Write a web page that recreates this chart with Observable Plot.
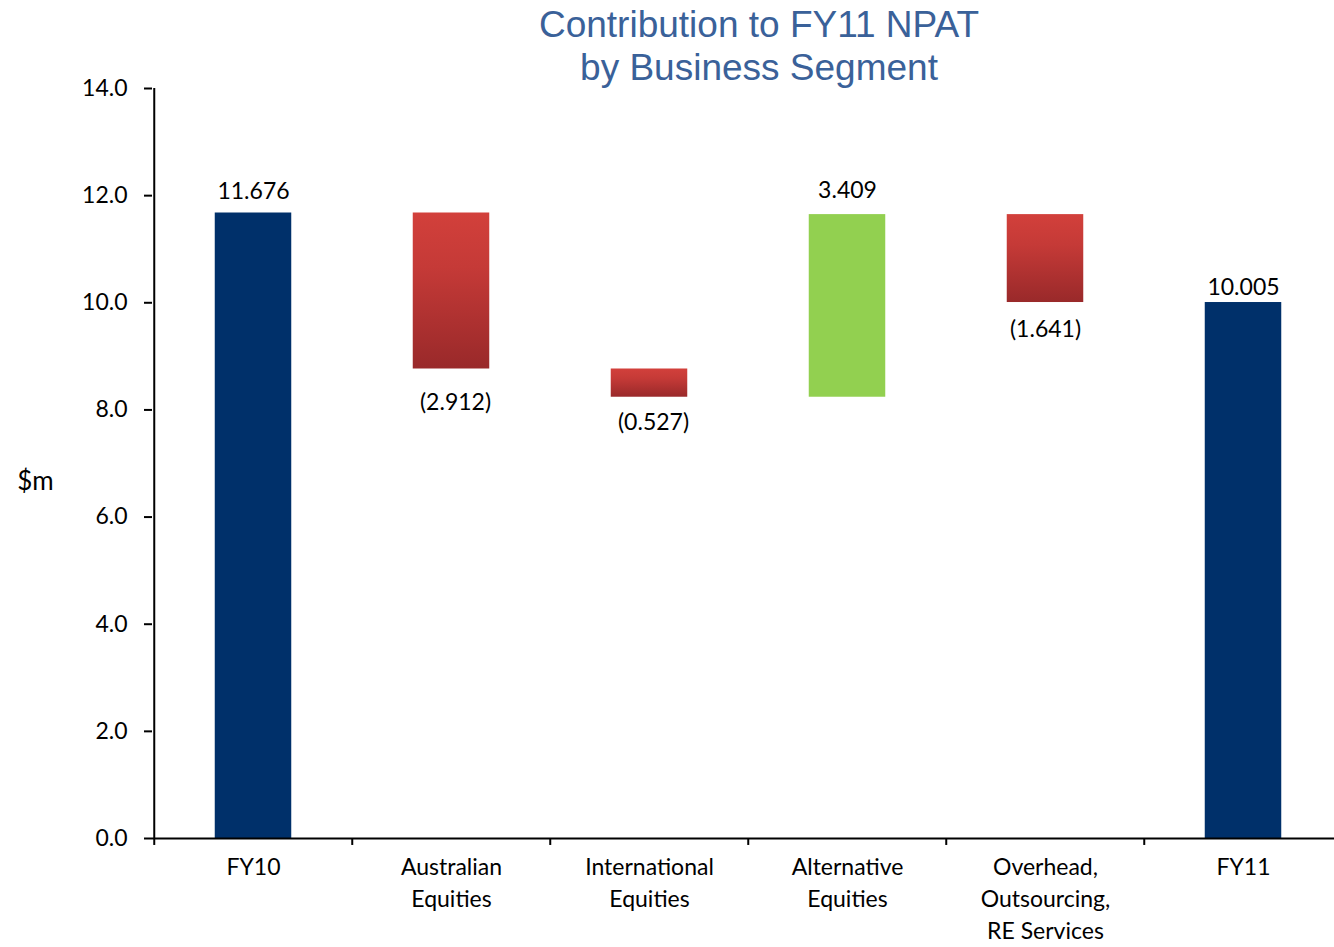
<!DOCTYPE html>
<html>
<head>
<meta charset="utf-8">
<script src="https://cdn.jsdelivr.net/npm/d3@7"></script>
<script src="https://cdn.jsdelivr.net/npm/@observablehq/plot@0.6"></script>
<style>
  html, body { margin: 0; padding: 0; background: #fff; }
  #wrap { position: relative; width: 1334px; height: 947px; overflow: hidden; }
  #title { position: absolute; left: 409px; width: 700px; top: 3px; text-align: center;
           font-family: "Liberation Sans", Arial, sans-serif; font-size: 37px; line-height: 43px; color: #3A6199; }
  #chart { position: absolute; left: 0; top: 0; }
</style>
</head>
<body>
<div id="wrap">
  <div id="chart"></div>
  <div id="title">Contribution to FY11 NPAT<br>by Business Segment</div>
</div>
<script>
const categories = ["FY10", "Australian\nEquities", "International\nEquities", "Alternative\nEquities", "Overhead,\nOutsourcing,\nRE Services", "FY11"];
const values = [11.676, -2.912, -0.527, 3.409, -1.641, 10.005];
const kinds = ["total", "delta", "delta", "delta", "delta", "total"];
const yTicks = [0, 2, 4, 6, 8, 10, 12, 14];

// Build waterfall table
let run = 0;
const rows = categories.map((c, i) => {
  let y1, y2;
  if (kinds[i] === "total") { y1 = 0; y2 = values[i]; run = values[i]; }
  else { y1 = run; y2 = run + values[i]; run = y2; }
  const label = values[i] < 0 ? `(${Math.abs(values[i]).toFixed(3)})` : values[i].toFixed(3);
  return {cat: c, y1, y2, lo: Math.min(y1, y2), hi: Math.max(y1, y2), kind: kinds[i], value: values[i], label};
});

const x0 = 152, x1 = 1343;
const step = (x1 - x0) / categories.length;
const barW = 77;
const inset = (step - barW) / 2;
const font = "Lato, 'Open Sans', sans-serif";
// per-label pixel offsets (style, mirroring the source layout)
const labelDy = [-21, 34, 25, -24, 27, -15];
const labelDx = [0, 4, 4, 0, 0, 0];

const labelMarks = rows.map((r, i) => Plot.text([r], {
  x: "cat", y: r.value >= 0 ? "hi" : "lo", text: "label",
  dy: labelDy[i], dx: labelDx[i], fontSize: 23
}));

const chart = Plot.plot({
  width: 1334,
  height: 947,
  marginTop: 88,
  marginBottom: 109,
  marginLeft: 152,
  marginRight: 0,
  style: {fontFamily: font, fontSize: "23px", color: "#000", background: "transparent"},
  x: {domain: categories, range: [x0, x1], padding: 0},
  y: {domain: [0, 14]},
  marks: [
    Plot.rectY(rows.filter(d => d.kind === "total"), {x: "cat", y1: "lo", y2: "hi", fill: "#00306A", insetLeft: inset, insetRight: inset}),
    Plot.rectY(rows.filter(d => d.kind === "delta" && d.value < 0), {x: "cat", y1: "lo", y2: "hi", fill: "url(#redGrad)", insetLeft: inset, insetRight: inset}),
    Plot.rectY(rows.filter(d => d.kind === "delta" && d.value >= 0), {x: "cat", y1: "lo", y2: "hi", fill: "#92D050", insetLeft: inset, insetRight: inset}),
    ...labelMarks,
    // axes lines
    Plot.ruleY([0], {stroke: "#000", strokeWidth: 2}),
    Plot.ruleX([categories[0]], {dx: -step / 2, y1: 0, y2: 14, stroke: "#000", strokeWidth: 2}),
    // x boundary ticks
    Plot.ruleX(categories, {dx: -step / 2, y1: 0, y2: -0.13, stroke: "#000", strokeWidth: 2}),
    Plot.axisY({ticks: yTicks, tickFormat: d => d.toFixed(1), tickSize: 8, tickPadding: 17, fontSize: 23, label: null, strokeWidth: 2}),
    Plot.axisX({tickSize: 0, tickPadding: 14, fontSize: 23, label: null, lineHeight: 1.39, lineAnchor: "top"}),
    Plot.text(["$m"], {frameAnchor: "left", dx: -117, dy: 18, fontSize: 26, textAnchor: "middle"})
  ]
});

// gradient defs
const svg = d3.select(chart);
const defs = svg.insert("defs", ":first-child");
const g = defs.append("linearGradient").attr("id", "redGrad").attr("x1", 0).attr("y1", 0).attr("x2", 0).attr("y2", 1);
g.append("stop").attr("offset", "0%").attr("stop-color", "#D2403B");
g.append("stop").attr("offset", "35%").attr("stop-color", "#C53A37");
g.append("stop").attr("offset", "100%").attr("stop-color", "#99292A");

document.getElementById("chart").appendChild(chart);
</script>
</body>
</html>
